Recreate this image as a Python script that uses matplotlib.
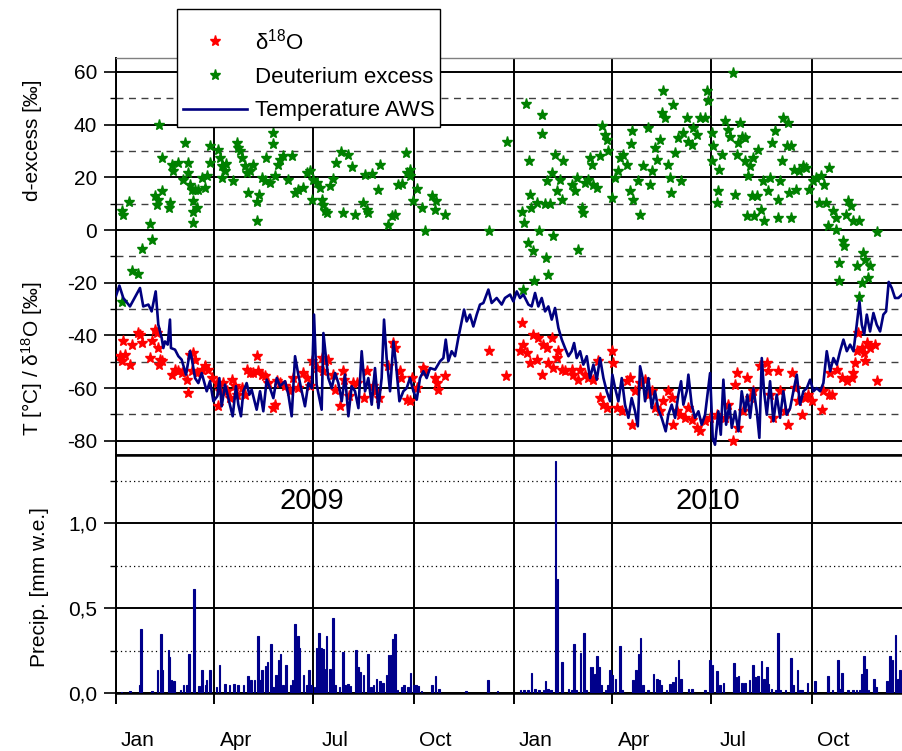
import numpy as np
import matplotlib
matplotlib.use("Agg")
import matplotlib.pyplot as plt
import matplotlib.dates as mdates
from matplotlib.ticker import MultipleLocator, FixedLocator, FixedFormatter, FuncFormatter

plt.rcParams['font.family'] = ['Liberation Sans', 'DejaVu Sans']
plt.rcParams['mathtext.fontset'] = 'custom'
plt.rcParams['mathtext.rm'] = 'Liberation Sans'
plt.rcParams['mathtext.it'] = 'Liberation Sans:italic'
plt.rcParams['axes.unicode_minus'] = False

# ---------------- data (days since 2009-01-01) ----------------
temp_day = [0, 3.1, 6.7, 12.8, 22, 25, 29.7, 32.7, 36.4, 38.8, 41.9, 43.4, 44.9, 47.4, 49.5, 50.4,
            54.1, 57.2, 60.2, 64.2, 67.9, 69.4, 72.5, 75.5, 78.6, 83.2, 86.2, 89.3, 92.9, 94.8, 96.9,
            100, 103, 107, 110, 112.2, 114.6, 116.8, 119.8, 122.3, 124.4, 129, 132.1, 135.1, 138.2,
            141.2, 144.3, 147.4, 150.4, 155, 158.1, 161.1, 164.2, 167.2, 170.3, 173.3, 176.4, 179.5,
            181.6, 184, 188.6, 190.2, 192.6, 194.7, 197.8, 200.9, 203.9, 207, 210, 213.1, 216.1,
            219.2, 222.3, 225.3, 228.4, 231.4, 234.5, 237.5, 240.6, 243.6, 245.8, 248.2, 251.3,
            254.4, 256.8, 259.9, 263.5, 266.6, 269.6, 272.7, 275.8, 278.8, 281.9, 284.9, 288,
            292.6, 297.2, 300.2, 302.4, 304.8, 307.8, 310.9, 313.9, 317, 319.2, 321.6, 324.6,
            327.7, 330.8, 333.8, 336.9, 341.5, 344.5, 349.1, 353.7, 356.7, 361.4, 364.4, 367.5,
            370.5, 373.6, 378.2, 381.2, 384.3, 387.3, 390.4, 393.5, 396.5, 399.6, 402.6, 405.7,
            408.8, 411.8, 414.9, 417.9, 420.1, 422.5, 425.6, 428.6, 431.7, 434.7, 437.8, 440.9,
            443.9, 447, 450, 453.1, 455.2, 457.7, 460.7, 463.8, 466.8, 469.9, 472.9, 476, 478.5,
            480.6, 483.0, 485.2, 488.2, 491.3, 494.3, 497.4, 500.4, 504.1, 506.5, 509.6, 512.7,
            515.7, 518.2, 520.3, 523.4, 524.9, 527.9, 531, 534.1, 537.1, 540.2, 544.8, 547.2,
            549.3, 552.4, 554.6, 557, 559.5, 562.5, 564.7, 567.7, 570.8, 573.8, 576.9, 579, 581.5,
            584.5, 587.6, 590, 592.2, 594.3, 596.8, 599.8, 602.9, 605.9, 609, 612, 615.1, 618.2,
            621.2, 624.3, 627.3, 630.4, 633.5, 636.5, 639.6, 642.6, 645.7, 648.7, 651.8, 654.9,
            657.9, 661, 664, 667.1, 670.2, 673.2, 676.3, 679.3, 681.8, 683.9, 686.1, 688.5, 691.5,
            694.6, 697.6, 700.7, 703.7, 706.2, 708.6, 711.4, 714.4, 717.5, 720.8]
temp_val = [-25.0, -21.1, -25.8, -29.0, -22.0, -29.0, -28.3, -30.9, -23.3, -35.9, -41.0, -44.8, -42.3,
            -43.5, -34.0, -44.8, -45.4, -47.9, -49.2, -54.9, -46.0, -48.6, -56.2, -58.1, -54.3, -61.2,
            -57.4, -65.0, -63.1, -56.2, -66.9, -58.7, -63.8, -70.7, -59.3, -66.3, -70.7, -61.2, -58.1,
            -62.5, -60.6, -68.2, -61.2, -68.8, -56.8, -60.0, -63.8, -56.2, -59.3, -57.4, -62.5, -70.7,
            -47.9, -54.9, -61.2, -66.9, -58.1, -60.0, -32.1, -58.7, -68.2, -39.1, -48.6, -56.2, -60.0,
            -54.3, -58.1, -65.0, -54.9, -70.7, -59.3, -61.2, -67.6, -46.0, -61.2, -56.2, -66.3, -52.4,
            -67.6, -56.2, -34.0, -48.6, -61.2, -42.3, -51.1, -65.0, -61.2, -60.0, -56.2, -61.2, -64.4,
            -56.2, -53.6, -56.2, -52.4, -53.0, -49.8, -48.6, -41.6, -49.8, -46.0, -47.9, -41.0, -34.7,
            -30.2, -34.7, -32.1, -36.6, -32.1, -28.3, -27.7, -22.6, -27.7, -25.8, -28.3, -25.8, -24.5,
            -27.1, -23.3, -25.8, -24.5, -28.3, -29.0, -23.9, -29.0, -25.8, -30.9, -29.0, -34.0, -29.6,
            -37.2, -41.6, -44.8, -47.9, -46.0, -42.9, -48.6, -46.0, -51.1, -47.9, -56.2, -51.1, -56.8,
            -48.6, -56.2, -61.2, -65.0, -54.9, -60.0, -65.0, -56.2, -66.3, -71.3, -63.8, -68.8, -74.5,
            -51.7, -56.2, -65.0, -56.2, -67.6, -61.2, -68.2, -71.3, -76.4, -70.1, -66.3, -71.3, -62.5,
            -57.4, -66.3, -61.2, -54.9, -66.3, -71.3, -68.8, -73.9, -70.1, -54.3, -78.9, -81.5, -68.8,
            -77.7, -56.8, -73.9, -66.3, -75.1, -68.8, -76.4, -61.2, -68.8, -62.5, -71.3, -60.0, -68.8,
            -78.9, -48.6, -61.2, -70.1, -57.4, -72.6, -62.5, -71.3, -61.2, -70.1, -67.6, -61.2, -54.9,
            -66.3, -61.2, -60.0, -56.8, -61.2, -60.0, -61.2, -58.1, -46.0, -53.6, -48.6, -51.1, -46.0,
            -41.6, -46.0, -43.5, -46.0, -35.9, -27.1, -35.9, -39.7, -32.1, -38.5, -31.5, -35.9, -38.5,
            -32.1, -30.9, -19.7, -22.0, -25.8, -25.8, -24.5]

d18o_day = [3.7, 5.2, 6.7, 8.3, 12.8, 14.4, 20.5, 22, 23.5, 31.2, 32.7, 35.8, 37.3, 38.8, 39.8, 40.4,
            41.9, 51.1, 54.1, 57.2, 60.2, 64.8, 66.3, 67.9, 69.4, 70.9, 72.5, 74, 78.6, 81.6, 84.7,
            87.7, 92.3, 93.9, 95.4, 98.4, 101.5, 104.6, 106.1, 109.1, 110.7, 115.3, 118.3, 119.8,
            122.9, 125.9, 129, 130.5, 133.6, 136.7, 139.7, 144.3, 145.8, 147.4, 150.4, 155, 159.6,
            162.7, 167.2, 171.8, 174.9, 177.9, 179.5, 184, 188.6, 190.2, 191.7, 194.7, 199.4, 200.8,
            205.4, 208.4, 209.5, 213.9, 216.9, 221.4, 227.8, 229.9, 235.9, 238.5, 241.6, 249.2,
            254.4, 255.9, 260.2, 261.7, 266.6, 269.6, 271.2, 275.6, 281.9, 283.4, 292.6, 294.1,
            295.1, 301.6, 342.4, 357.7,
            370.5, 372, 373.6, 376.6, 379.7, 382.8, 385.8, 387.3, 390.4, 391.9, 395, 396.5, 399.6,
            401.1, 404.2, 405.7, 408.8, 411.8, 417.9, 419.5, 424.1, 425.6, 430.2, 433.2, 437.8,
            442.4, 443.4, 447, 450, 454.6, 456.2, 459.2, 463.8, 468.4, 471.4, 472.9, 476, 480.6,
            485.2, 488.2, 491.3, 494.3, 498.9, 502, 506.5, 509.6, 511.1, 514.2, 517.2, 521.8, 524.9,
            527.9, 532.5, 535.6, 540.2, 544.8, 550.9, 558.5, 561.6, 566.2, 567.7, 569.2, 570.8,
            575.3, 578.4, 581.5, 584.5, 590.6, 596.8, 598.3, 599.8, 602.9, 607.5, 609, 613.6, 616.6,
            619.7, 622.8, 625.8, 628.9, 631.9, 635, 638, 647.2, 648.8, 653.4, 654.9, 656.4, 661,
            665.6, 670.2, 674.8, 676.3, 677.8, 679.3, 680.9, 683.9, 685.5, 687, 688.5, 691.5, 696.1,
            697.7]
d18o_val = [-47.9, -49.8, -42.3, -47.3, -51.1, -43.5, -39.1, -39.7, -42.9, -48.6, -42.3, -37.8, -39.1,
            -44.8, -51.1, -49.2, -49.8, -54.9, -53.0, -53.6, -54.3, -56.8, -61.9, -47.3, -53.6, -46.7,
            -49.2, -54.3, -53.0, -51.7, -53.0, -56.2, -58.1, -66.9, -61.2, -58.1, -61.2, -63.8, -56.8,
            -59.3, -62.5, -60.0, -62.5, -53.0, -54.3, -54.3, -47.9, -53.6, -54.9, -55.5, -58.1, -67.6,
            -66.3, -57.4, -58.1, -59.3, -61.2, -56.2, -60.0, -54.3, -56.2, -59.3, -49.8, -52.4, -48.6,
            -53.6, -49.8, -49.2, -54.9, -60.6, -66.9, -53.6, -56.8, -63.1, -58.1, -58.1, -63.8, -53.6,
            -59.3, -61.2, -63.8, -51.7, -42.9, -44.8, -53.6, -56.2, -64.4, -65.0, -56.2, -60.0, -52.4,
            -53.6, -56.2, -58.1, -60.6, -55.5, -46.0, -55.5,
            -46.0, -35.3, -43.5, -46.7, -50.5, -39.7, -49.2, -41.0, -54.9, -43.5, -44.8, -50.5, -41.0,
            -52.4, -48.6, -46.0, -53.0, -53.6, -53.0, -54.9, -56.8, -53.0, -54.9, -56.2, -56.8, -49.8,
            -63.8, -66.3, -67.6, -46.0, -50.5, -67.6, -68.8, -57.4, -56.2, -73.9, -61.2, -58.1, -56.8,
            -62.5, -61.2, -67.6, -68.8, -65.0, -61.2, -63.8, -73.9, -68.8, -70.1, -71.3, -67.6, -72.0,
            -75.1, -76.4, -72.6, -71.3, -70.1, -71.3, -66.3, -80.2, -58.7, -54.3, -75.1, -68.8, -56.2,
            -63.8, -61.2, -51.7, -50.5, -53.6, -62.5, -71.3, -53.6, -61.2, -68.8, -73.9, -54.3, -60.0,
            -65.0, -70.1, -63.8, -62.5, -65.0, -68.2, -61.2, -62.5, -54.3, -62.5, -53.0, -56.2, -57.4,
            -56.2, -54.3, -50.5, -46.0, -39.1, -44.8, -46.7, -49.8, -42.9, -44.8, -43.5, -57.4]

dex_day = [5.2, 5.2, 6.7, 12.2, 14.4, 20.5, 23.5, 31.2, 32.7, 35.8, 37.3, 38.8, 39.7, 41.9, 41.9,
           48.9, 49.5, 51.1, 52.6, 57.2, 61.8, 63.3, 66.3, 66.3, 67.9, 69.4, 70.3, 70.9, 70.9, 72.5,
           74, 75.5, 78.6, 81.6, 83.2, 86.2, 86.2, 93.9, 95.4, 96.9, 96.9, 100, 100.9, 107.6, 110.7,
           112.2, 113.7, 115.3, 118.3, 119.8, 121.4, 122.9, 125.9, 129, 129, 131.5, 133.6, 136.7,
           137.6, 141.2, 144.3, 144.3, 145.8, 148.9, 150.4, 152.8, 158.1, 161.1, 164.2, 167.2,
           171.8, 174.9, 177.9, 179.5, 181, 184, 187.1, 188.6, 190.2, 191.7, 193.2, 196.3, 198.7,
           201.8, 206.1, 208.4, 213.1, 216.1, 219.2, 226.8, 228.4, 229.9, 231.4, 234.5, 240.6,
           242.1, 249.8, 252.9, 256, 259, 262.1, 266, 266.6, 269.6, 269.6, 272.7, 275.8, 280.4,
           283.4, 289.5, 292.6, 293.5, 301.6, 342.4, 358.3,
           372, 373.6, 374.5, 375.7, 378.2, 379, 379.7, 380.2, 382.8, 383.7, 385.8, 388, 390.4, 391,
           393.5, 394.4, 395, 396.5, 398, 399.6, 401.1, 402.6, 404.2, 407.2, 408.8, 410.3, 417.9,
           420.9, 422.5, 423.5, 426.9, 428.6, 430.2, 433.2, 434.7, 436.3, 437.8, 440.9, 443.9,
           445.5, 448.5, 450, 451.6, 454.6, 457.7, 460.7, 462.3, 465.3, 468.4, 471.4, 472.3, 473.5,
           474.5, 478.5, 480.1, 483.6, 488.2, 489.7, 491.3, 494.3, 495.9, 498.9, 500.4, 502, 503.5,
           506.5, 508.1, 509.2, 511.1, 512.6, 515.7, 518.2, 520.3, 523.4, 524.9, 527.9, 529.5,
           532.5, 535.6, 540.2, 541.7, 543.2, 546.3, 546.3, 547.9, 551.4, 552.4, 553.3, 555.5,
           558.5, 561.6, 563.2, 565.6, 567.7, 569.2, 570.8, 572.3, 573.8, 576.9, 576.9, 578.4,
           579.9, 581.5, 583, 584.5, 585.3, 587.6, 589.1, 591.4, 593.7, 594.5, 598.3, 599.8, 601.4,
           604.4, 607.5, 607.5, 609, 610.6, 612.1, 615.1, 616.6, 617.4, 618.9, 618.9, 622.1, 623.6,
           626.7, 629.7, 632.8, 635.8, 638.9, 641.9, 645, 646.5, 649.6, 651.1, 652.6, 654.1, 657.2,
           660.3, 660.3, 663.4, 663.4, 666.4, 668, 669.4, 671, 673.9, 675.5, 679.6, 681.2, 681.6,
           684.3, 685.1, 686.6, 689.8, 691.3, 697.7]
dex_val = [7.1, -27.2, 5.8, 10.5, -15.7, -16.7, -7.1, 2.3, -3.9, 12.8, 9.6, 11.5, 40.0, 14.9, 27.3,
           8.3, 10.1, 24.8, 22.3, 25.4, 19.1, 33.0, 25.4, 21.6, 17.2, 15.3, 6.8, 10.9, 2.7, 15.3,
           8.3, 15.3, 19.7, 15.9, 20.4, 31.8, 25.4, 30.5, 27.3, 24.2, 19.7, 22.3, 25.2, 18.5, 33.0,
           31.1, 29.9, 27.3, 24.2, 21.6, 14.0, 22.3, 24.8, 10.6, 3.3, 13.4, 19.7, 18.5, 27.3, 17.8,
           36.8, 32.6, 20.4, 24.8, 26.7, 28.0, 19.1, 28.2, 14.0, 15.3, 15.9, 21.6, 22.3, 11.5, 19.1,
           17.8, 15.9, 11.5, 9.6, 7.1, 6.5, 16.6, 19.5, 25.4, 29.5, 6.5, 28.6, 23.8, 5.8, 10.2,
           21.0, 7.7, 6.5, 21.3, 15.3, 24.5, 2.0, 5.2, 5.8, 17.2, 17.5, 29.3, 21.6, 22.9, 20.4, 10.9,
           15.7, 8.3, -0.3, 12.8, 7.7, 10.9, 5.6, -0.5, 33.6,
           6.7, -22.9, 2.7, 47.9, -4.9, 26.3, 13.4, 8.3, -8.1, -19.5, 10.2, -0.3, 43.8, 36.4, 9.9,
           -10.6, 18.5, -17.0, 10.0, 21.6, -2.2, 28.3, 14.7, 19.1, 11.5, 26.1, 17.2, 14.7, 19.7,
           -7.5, 8.3, 6.5, 17.8, 19.1, 27.3, 24.8, 17.2, 15.9, 28.0, 39.3, 36.2, 34.3, 29.9, 12.1,
           19.7, 22.3, 27.3, 28.6, 24.8, 14.7, 32.6, 37.7, 11.5, 18.5, 5.8, 24.2, 38.7, 17.2, 22.3,
           31.1, 26.7, 34.3, 44.4, 52.6, 42.5, 24.8, 19.7, 14.0, 47.6, 29.2, 34.9, 18.5, 36.8, 42.5,
           33.6, 32.4, 38.7, 36.2, 42.5, 42.5, 52.6, 48.8, 36.8, 26.1, 31.8, 10.2, 14.7, 22.9, 28.6,
           41.2, 38.1, 35.5, 59.6, 13.4, 28.6, 33.0, 40.6, 35.5, 34.9, 26.1, 5.2, 20.4, 24.2, 12.8,
           27.3, 5.2, 12.8, 30.5, 7.7, 18.5, 3.3, 14.7, 19.7, 33.0, 37.4, 4.6, 11.5, 18.5, 26.1,
           42.5, 31.8, 40.6, 14.0, 4.6, 31.8, 22.9, 15.3, 22.3, 24.2, 23.5, 15.3, 18.5, 19.7, 10.2,
           20.4, 17.2, 10.2, 1.4, 23.5, 7.1, 4.6, 0.1, -12.5, -19.5, -4.3, -6.2, 5.8, 10.9, 9.0, 3.3,
           -13.8, -25.6, 3.3, -20.1, -8.7, -11.3, -18.2, -13.8, -0.8]

precip_day = [5, 13, 22, 23, 33, 38, 41, 42, 48, 49, 51, 53, 59, 62, 65, 67, 71, 72, 76, 79, 82, 83,
              86, 92, 95, 100, 104, 108, 112, 117, 121, 124, 127, 130, 132, 134, 137, 139, 142, 144,
              147, 149, 151, 153, 156, 160, 162, 164, 167, 168, 172, 175, 177, 179, 182, 184, 186,
              188, 190, 191, 193, 196, 199, 201, 205, 208, 210, 213, 215, 220, 222, 224, 227, 231,
              234, 236, 239, 242, 245, 248, 250, 252, 254, 256, 258, 262, 264, 268, 270, 273, 275,
              277, 280, 290, 293, 296, 321, 341, 350,
              371, 374, 378, 381, 384, 388, 392, 394, 396, 399, 403, 405, 409, 415, 418, 420, 422,
              426, 429, 431, 435, 437, 439, 441, 443, 445, 449, 451, 453, 455, 458, 462, 464, 474,
              477, 479, 481, 483, 488, 493, 496, 498, 500, 505, 508, 511, 513, 516, 518, 525, 528,
              540, 545, 547, 551, 554, 557, 567, 569, 571, 574, 577, 581, 584, 586, 589, 592, 594,
              597, 598, 601, 605, 607, 609, 614, 619, 621, 625, 627, 629, 634, 641, 653, 657, 662,
              664, 666, 671, 676, 679, 682, 684, 686, 688, 690, 695, 697, 707, 710, 712, 715, 717,
              719]
precip_val = [0.008, 0.012, 0.05, 0.378, 0.01, 0.133, 0.349, 0.133, 0.251, 0.21, 0.075, 0.071, 0.016,
              0.045, 0.05, 0.231, 0.614, 0.614, 0.04, 0.133, 0.045, 0.075, 0.137, 0.035, 0.167, 0.055,
              0.049, 0.051, 0.049, 0.049, 0.1, 0.075, 0.078, 0.335, 0.075, 0.137, 0.159, 0.182, 0.29,
              0.035, 0.104, 0.192, 0.231, 0.045, 0.167, 0.049, 0.078, 0.404, 0.335, 0.267, 0.108,
              0.045, 0.137, 0.045, 0.035, 0.265, 0.355, 0.267, 0.261, 0.143, 0.335, 0.143, 0.443,
              0.049, 0.035, 0.241, 0.045, 0.055, 0.039, 0.255, 0.153, 0.124, 0.104, 0.227, 0.035,
              0.049, 0.08, 0.071, 0.059, 0.108, 0.222, 0.222, 0.32, 0.349, 0.016, 0.035, 0.049, 0.035,
              0.12, 0.049, 0.045, 0.039, 0.01, 0.05, 0.098, 0.022, 0.012, 0.075, 0.012,
              0.016, 0.02, 0.02, 0.12, 0.022, 0.02, 0.02, 0.071, 0.022, 0.02, 1.363, 0.672, 0.182,
              0.022, 0.02, 0.29, 0.02, 0.237, 0.355, 0.02, 0.153, 0.153, 0.114, 0.218, 0.153, 0.045,
              0.02, 0.049, 0.137, 0.108, 0.084, 0.276, 0.02, 0.075, 0.137, 0.231, 0.325, 0.045, 0.02,
              0.11, 0.084, 0.075, 0.049, 0.02, 0.055, 0.065, 0.094, 0.192, 0.084, 0.025, 0.025, 0.016,
              0.196, 0.163, 0.129, 0.045, 0.061, 0.176, 0.094, 0.098, 0.059, 0.061, 0.075, 0.167,
              0.094, 0.098, 0.188, 0.084, 0.153, 0.055, 0.025, 0.016, 0.353, 0.02, 0.02, 0.208, 0.045,
              0.137, 0.02, 0.016, 0.059, 0.071, 0.1, 0.02, 0.192, 0.025, 0.118, 0.016, 0.02, 0.02,
              0.02, 0.11, 0.216, 0.143, 0.02, 0.08, 0.035, 0.071, 0.216, 0.192, 0.343, 0.084, 0.137]

quarter_dates = ['2009-01-01', '2009-04-01', '2009-07-01', '2009-10-01',
                 '2010-01-01', '2010-04-01', '2010-07-01', '2010-10-01']
month_labels = ['Jan', 'Apr', 'Jul', 'Oct', 'Jan', 'Apr', 'Jul', 'Oct']
year_labels = ['2009', '2010']

# ---------------- conversion to matplotlib date numbers ----------------
T0 = mdates.date2num(np.datetime64('2009-01-01'))
tx = T0 + np.array(temp_day)
ox = T0 + np.array(d18o_day)
dx = T0 + np.array(dex_day)
px = T0 + np.array(precip_day)
qx = np.array([mdates.date2num(np.datetime64(d)) for d in quarter_dates])

NAVY = '#000080'
fig = plt.figure(figsize=(9.02, 7.51), dpi=100)
L = 116 / 902
ax1 = fig.add_axes([L, 1 - 455 / 751, 1 - L, (455 - 58) / 751])
ax2 = fig.add_axes([L, 1 - 693 / 751, 1 - L, (693 - 455) / 751], sharex=ax1)

for ax in (ax1, ax2):
    ax.set_axisbelow(True)
    ax.xaxis.set_major_locator(FixedLocator(qx))
    ax.xaxis.grid(True, which='major', color='black', lw=1.4)
    ax.spines['right'].set_visible(False)
    ax.spines['left'].set_linewidth(1.4)

# top panel
h1, = ax1.plot(ox, d18o_val, ls='none', marker='*', ms=8, color='#ff0000', mec='#ff0000', zorder=3)
h2, = ax1.plot(dx, dex_val, ls='none', marker='*', ms=8, color='#008000', mec='#008000', zorder=3)
h3, = ax1.plot(tx, temp_val, color=NAVY, lw=1.9, zorder=4)
ax1.set_ylim(-85.4, 65.3)
ax1.set_xlim(T0, T0 + 720.8)
ax1.yaxis.set_major_locator(MultipleLocator(20))
ax1.yaxis.set_minor_locator(MultipleLocator(10))
ax1.yaxis.grid(True, which='major', color='black', lw=1.4)
ax1.yaxis.grid(True, which='minor', color='#404040', lw=1.0, ls=(0, (5, 4)))
ax1.tick_params(axis='y', which='major', direction='out', length=8.5, width=1.2, labelsize=15, pad=5)
ax1.tick_params(axis='y', which='minor', direction='out', length=4, width=1.0)
ax1.tick_params(axis='x', which='both', length=0, labelbottom=False)
ax1.spines['top'].set_color('#808080')
ax1.spines['top'].set_linewidth(1.0)
ax1.spines['bottom'].set_linewidth(1.8)

# bottom panel
ax2.bar(px, precip_val, width=1.5, color='#00008b', edgecolor='#00008b', lw=0.8, zorder=3)
ax2.set_ylim(0, 1.4)
ax2.yaxis.set_major_locator(MultipleLocator(0.5))
ax2.yaxis.set_minor_locator(MultipleLocator(0.25))
ax2.yaxis.set_major_formatter(FuncFormatter(lambda v, p: ('%.1f' % v).replace('.', ',')))
ax2.yaxis.grid(True, which='major', color='black', lw=1.4)
ax2.yaxis.grid(True, which='minor', color='black', lw=0.9, ls=(0, (1, 2.5)))
ax2.tick_params(axis='y', which='major', direction='out', length=8.5, width=1.2, labelsize=15, pad=5)
ax2.tick_params(axis='y', which='minor', direction='out', length=4, width=1.0)
ax2.tick_params(axis='x', which='major', direction='out', length=8, width=1.4, labelbottom=False)
ax2.xaxis.set_minor_locator(FixedLocator(qx + 20))
ax2.xaxis.set_minor_formatter(FixedFormatter(month_labels))
ax2.tick_params(axis='x', which='minor', length=0, labelsize=15, pad=27)
ax2.spines['top'].set_linewidth(1.8)
ax2.spines['bottom'].set_linewidth(1.8)
ax2.text(T0 + 180, 1.13, year_labels[0], fontsize=21, ha='center', va='center')
ax2.text(T0 + 543, 1.13, year_labels[1], fontsize=21, ha='center', va='center')

# axis titles
fig.text(32 / 902, 1 - 140 / 751, 'd-excess [‰]', rotation=90, ha='center', va='center', fontsize=15)
fig.text(32 / 902, 1 - 359 / 751, 'T [°C] / δ$^{18}$O [‰]', rotation=90, ha='center', va='center', fontsize=15)
fig.text(40 / 902, 1 - 587 / 751, 'Precip. [mm w.e.]', rotation=90, ha='center', va='center', fontsize=15)

# legend
leg = ax1.legend([h1, h2, h3], ['δ$^{18}$O', 'Deuterium excess', 'Temperature AWS'],
                 loc='upper left', bbox_to_anchor=(177 / 902, 1 - 9 / 751),
                 bbox_transform=fig.transFigure, fancybox=False, framealpha=1,
                 edgecolor='black', fontsize=16, handlelength=2.9, handletextpad=0.35,
                 labelspacing=0.57, borderpad=0.25, borderaxespad=0,
                 title=' ', title_fontsize=1)
leg.get_frame().set_linewidth(1.0)
leg.set_zorder(10)

fig.savefig('out.png', dpi=100)
